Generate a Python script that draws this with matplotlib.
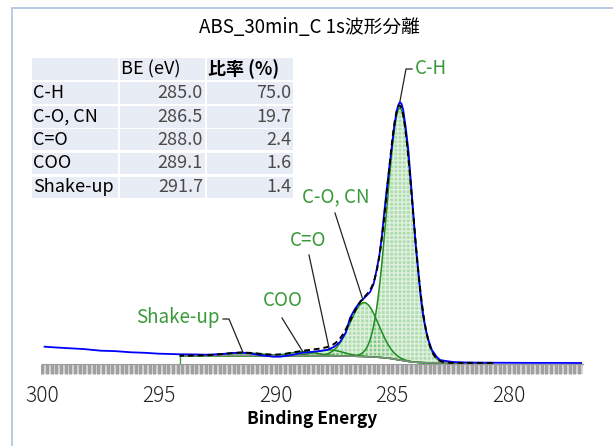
import numpy as np
import matplotlib.pyplot as plt
from matplotlib.patches import Rectangle
from matplotlib.ticker import MultipleLocator

plt.rcParams['font.family'] = ['Noto Sans CJK JP', 'DejaVu Sans']

spec_be = [299.9, 299.4, 298.8, 298.2, 297.5, 296.9, 296.2, 295.6, 295.0, 294.5,
           294.1, 293.5, 293.0, 292.4, 292.0, 291.5, 291.1, 290.7, 290.1, 289.8,
           289.4, 288.9, 288.5, 288.1, 287.8, 287.5, 287.24, 287.0, 286.81, 286.6,
           286.38, 286.2, 285.95, 285.8, 285.67, 285.55, 285.45, 285.35, 285.24, 285.13,
           285.02, 284.92, 284.81, 284.74, 284.67, 284.6, 284.53, 284.42, 284.31, 284.2,
           284.10, 284.0, 283.88, 283.78, 283.67, 283.56, 283.45, 283.3, 283.09, 282.95,
           282.7, 282.39, 282.0, 281.5, 281.0, 280.0, 279.0, 278.0, 276.9]
spec_int = [17.3, 16.5, 15.7, 14.9, 13.3, 12.9, 11.7, 11.2, 10.3, 10.0,
            9.7, 9.6, 9.3, 9.8, 10.6, 11.5, 10.6, 9.0, 7.3, 7.3,
            8.6, 11.0, 12.0, 13.0, 14.0, 17.0, 22.0, 31.0, 46.0, 55.0,
            62.0, 66.0, 72.0, 80.0, 94.0, 109.0, 127.0, 150.0, 174.0, 196.0,
            217.0, 237.0, 253.0, 259.0, 262.0, 260.0, 254.0, 236.0, 214.0, 182.0,
            151.0, 120.0, 91.0, 67.0, 47.0, 34.0, 24.0, 14.0, 7.0, 4.0,
            3.0, 2.0, 1.6, 1.4, 1.3, 1.2, 1.1, 1.1, 1.0]

# fitted components
comp_names = ['C-H', 'C-O, CN', 'C=O', 'COO', 'Shake-up']
comp_center = [284.67, 286.2, 287.7, 288.8, 291.4]
comp_height = [252.0, 54.0, 6.0, 4.0, 3.0]
comp_fwhm = [1.3, 1.45, 1.4, 1.4, 1.8]

# table values
tab_be = ['285.0', '286.5', '288.0', '289.1', '291.7']
tab_ratio = ['75.0', '19.7', '2.4', '1.6', '1.4']

fit_lo, fit_hi = 280.7, 294.1
bg_left, bg_right = 8.4, 1.1

W, H = 613, 446
fig = plt.figure(figsize=(W / 100, H / 100), dpi=100)


def fx(px):
    return px / W


def fy(py):
    return 1 - py / H


def be(px):
    return 300 - (px - 42.3) / 23.33


def it(py):
    return 364 - py


ax = fig.add_axes([fx(42.3), fy(364), fx(583) - fx(42.3), fy(40) - fy(364)])
ax.set_xlim(300, be(583))
ax.set_ylim(0, 324)

# -------------------------------------------------------------------------
# fit model: gaussian components on a shirley-type background
# -------------------------------------------------------------------------
e = np.linspace(fit_lo, fit_hi, 600)
comps = []
for c, h, w in zip(comp_center, comp_height, comp_fwhm):
    s = w / 2.3548
    comps.append(h * np.exp(-0.5 * ((e - c) / s) ** 2))
total = np.sum(comps, axis=0)
cum = np.cumsum(total)
bg = bg_right + (bg_left - bg_right) * cum / cum[-1]
env = bg + total

fc = (0.38, 0.72, 0.38, 0.50)
for y in comps:
    ax.fill_between(e, bg, bg + y, facecolor=fc, edgecolor=(1, 1, 1, 0.6),
                    hatch='++++', linewidth=0, zorder=2)
    ax.plot(e, bg + y, color='#1e8c1e', lw=1.1, zorder=3)
ax.plot(e, bg, color='#8c8c8c', lw=1.0, zorder=3)
ax.plot([fit_hi, fit_hi], [0, bg[-1]], color='#3aa03a', lw=1.0, zorder=3)

ax.plot(spec_be, spec_int, color='#0000ff', lw=1.3, zorder=4)
ax.plot(e, env, color='black', lw=1.4, ls=(0, (3, 2)), zorder=5)

# -------------------------------------------------------------------------
# peak labels with leader lines
# -------------------------------------------------------------------------
green = '#3a9a3a'
lab = dict(color=green, fontsize=13.5, va='center', zorder=6)
ax.text(be(415), it(68), 'C-H', ha='left', **lab)
ax.plot([be(412), be(406), be(400)], [it(69), it(69), it(101)], color='#222222', lw=0.9, zorder=6)
ax.text(be(336), it(197), 'C-O, CN', ha='center', **lab)
ax.plot([be(335), be(363)], [it(213), it(300)], color='#222222', lw=0.9, zorder=6)
ax.text(be(308), it(240), 'C=O', ha='center', **lab)
ax.plot([be(309), be(329)], [it(255), it(348)], color='#222222', lw=0.9, zorder=6)
ax.text(be(283), it(301), 'COO', ha='center', **lab)
ax.plot([be(282), be(303)], [it(318), it(352)], color='#222222', lw=0.9, zorder=6)
ax.text(be(220), it(318), 'Shake-up', ha='right', **lab)
ax.plot([be(223), be(229), be(243)], [it(319), it(319), it(352.5)], color='#222222', lw=0.9, zorder=6)

# -------------------------------------------------------------------------
# axes styling
# -------------------------------------------------------------------------
for s in ['left', 'right', 'top']:
    ax.spines[s].set_visible(False)
ax.spines['bottom'].set_color('#9a9a9a')
ax.set_yticks([])
ax.xaxis.set_major_locator(MultipleLocator(5))
ax.xaxis.set_minor_locator(MultipleLocator(0.2))
ax.tick_params(axis='x', which='both', length=7, width=2.2, color='#a0a0a0', direction='out')
ax.tick_params(axis='x', which='major', labelsize=15, pad=8, labelcolor='#222222')
ax.add_patch(Rectangle((0, -10 / 324), 1, 10 / 324, transform=ax.transAxes,
                       clip_on=False, facecolor='#d4d4d4', edgecolor='none', zorder=0))
for lbl in ax.get_xticklabels():
    lbl.set_fontweight('light')

fig.text(fx(312), fy(419), 'Binding Energy', ha='center', va='center', fontsize=12.5, fontweight='bold')
fig.text(fx(309), fy(28), 'ABS_30min_C 1s波形分離', ha='center', va='center', fontsize=13.5)

# -------------------------------------------------------------------------
# result table
# -------------------------------------------------------------------------
cols = [(32, 118), (120, 205), (207, 293)]
row_c = [69, 93, 117, 140, 163, 187]
for rc in row_c:
    for x0, x1 in cols:
        fig.patches.append(Rectangle((fx(x0), fy(rc + 10.5)), fx(x1) - fx(x0), (21 / H),
                                     transform=fig.transFigure, facecolor='#e8ecf5',
                                     edgecolor='none', zorder=1))
fig.text(fx(121), fy(row_c[0]), 'BE (eV)', ha='left', va='center', fontsize=13)
fig.text(fx(208), fy(row_c[0]), '比率 (%)', ha='left', va='center', fontsize=13, fontweight='bold')
for i, name in enumerate(comp_names):
    rc = row_c[i + 1]
    fig.text(fx(33), fy(rc), name, ha='left', va='center', fontsize=13)
    fig.text(fx(203), fy(rc), tab_be[i], ha='right', va='center', fontsize=13, color='#4a4a4a')
    fig.text(fx(291), fy(rc), tab_ratio[i], ha='right', va='center', fontsize=13, color='#4a4a4a')

# frame around the figure
fig.patches.append(Rectangle((fx(12), -0.1), 1.2, fy(8) + 0.1, transform=fig.transFigure,
                             facecolor='none', edgecolor='#a9c3de', lw=1.2, zorder=0))

fig.savefig('out.png', dpi=100)
